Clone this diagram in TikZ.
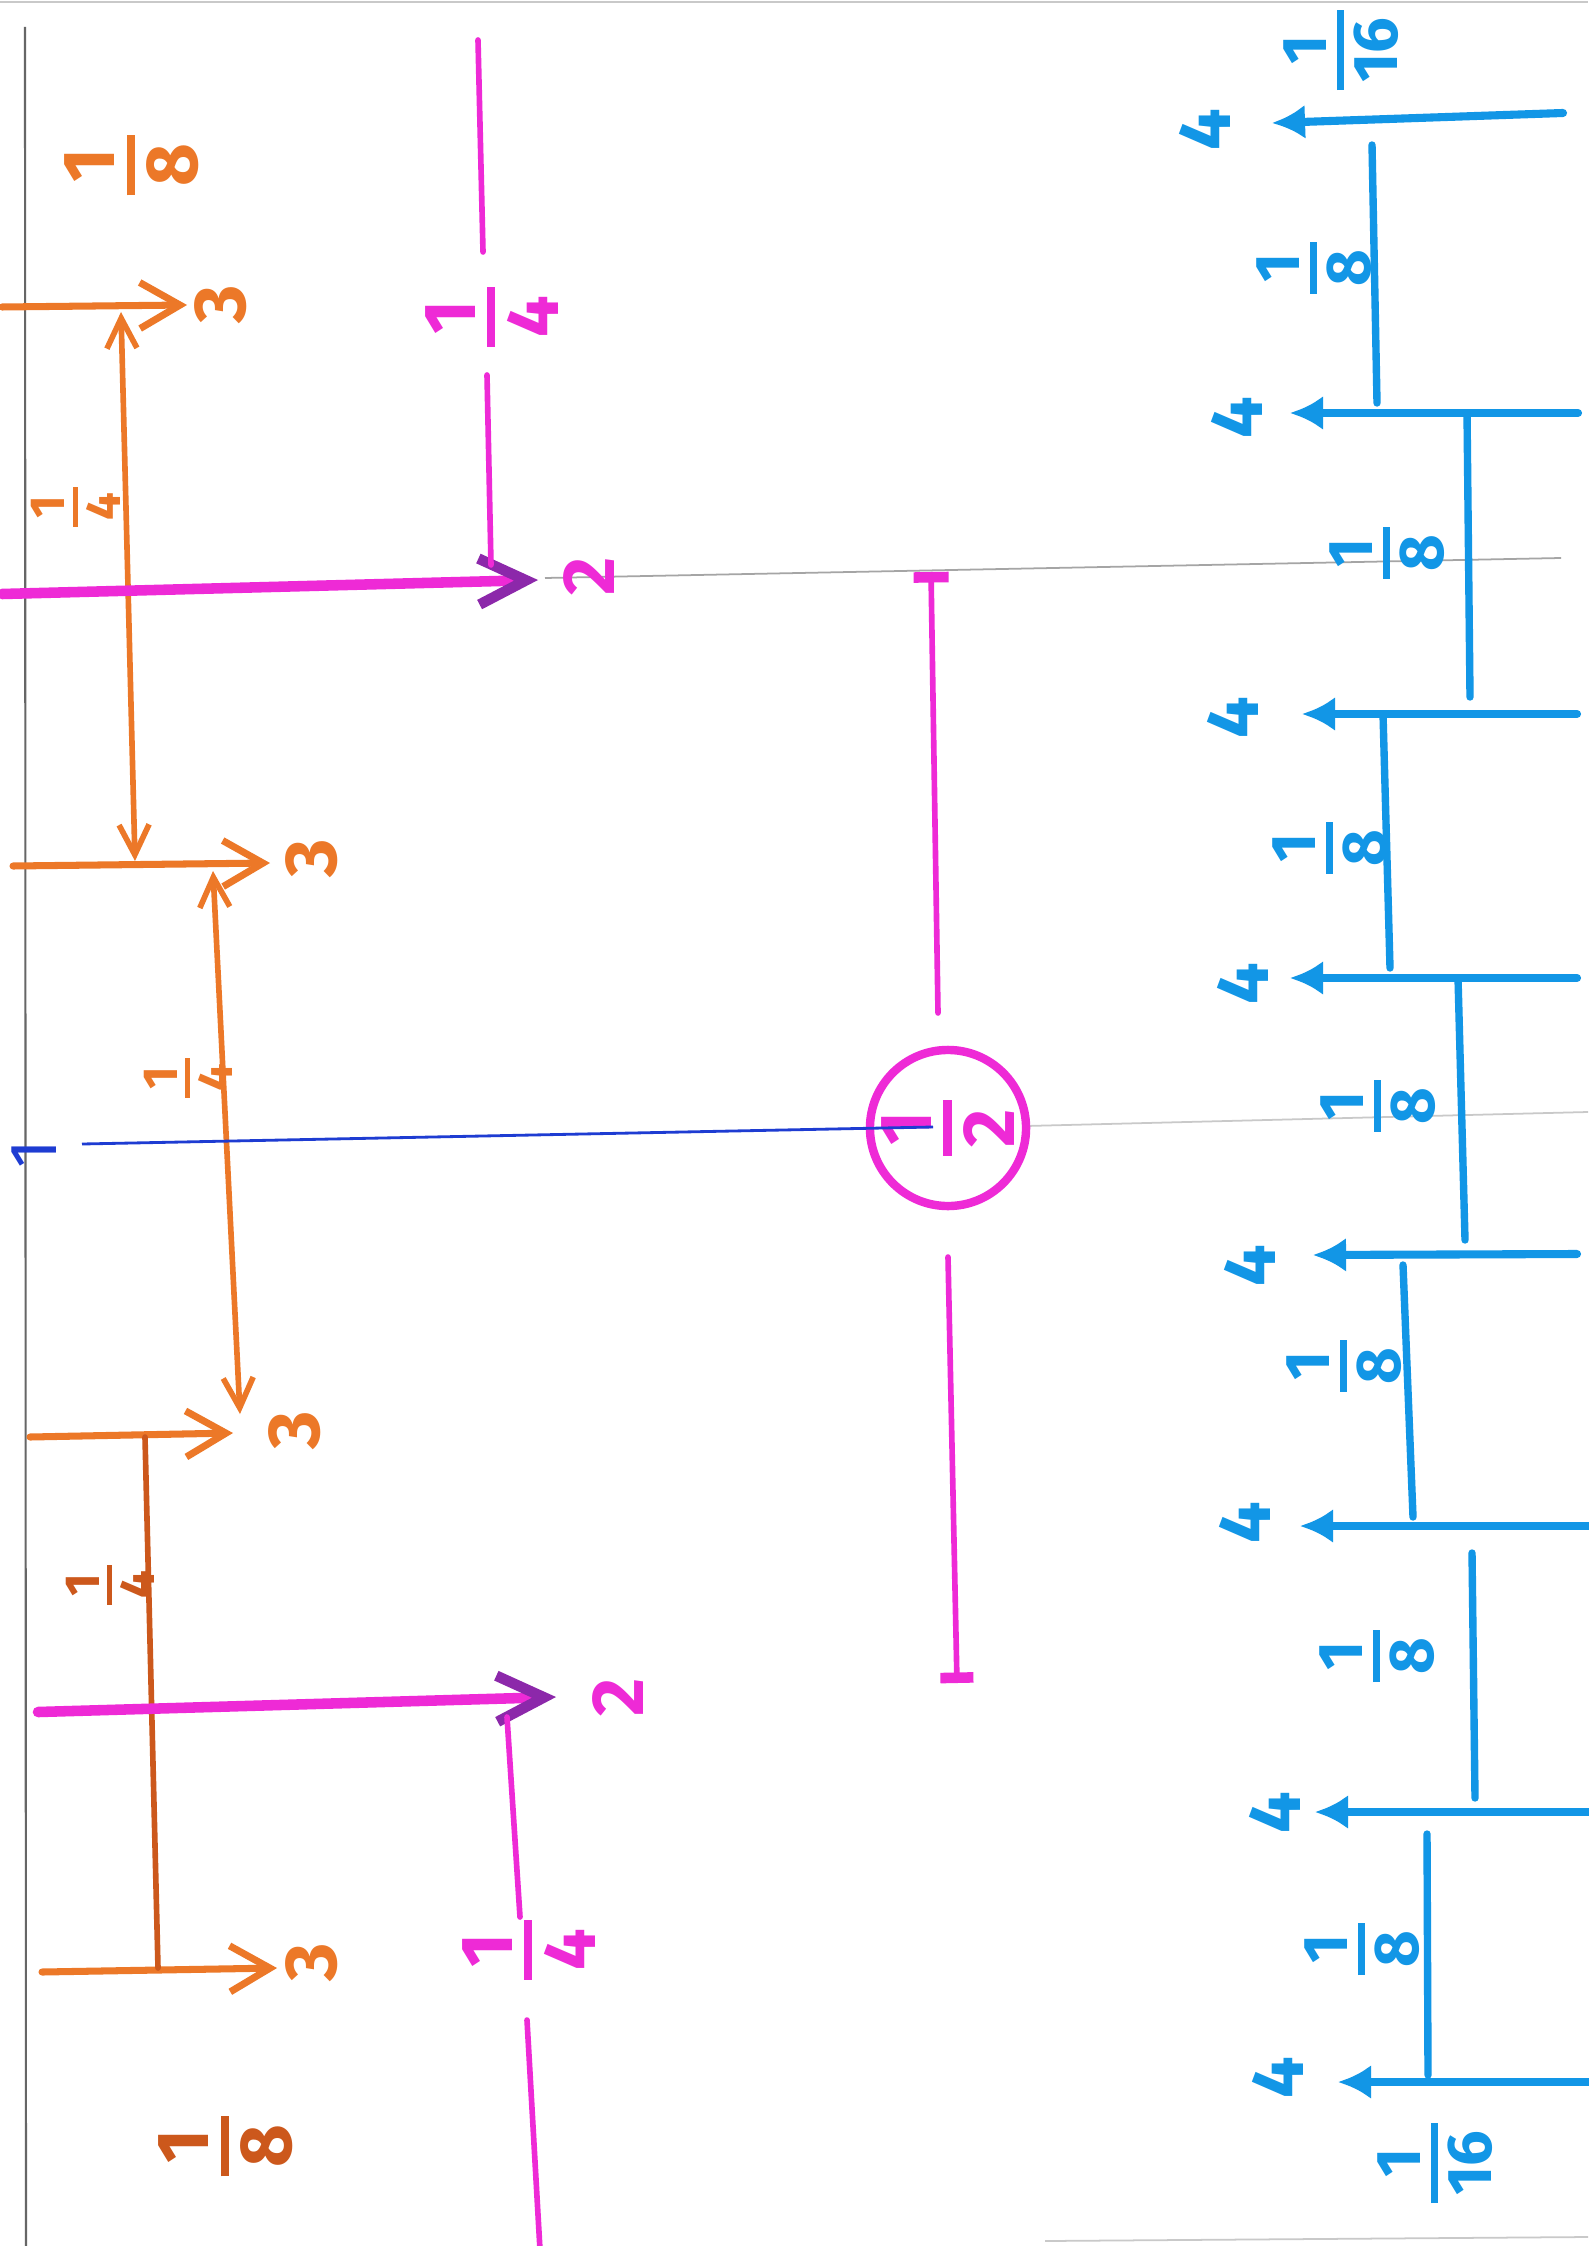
\documentclass[tikz,border=0pt]{standalone}
\usepackage{fontspec}
\setmainfont{Fira Sans}
\usetikzlibrary{arrows.meta}
\definecolor{orng}{RGB}{236,120,40}
\definecolor{orngdk}{RGB}{204,88,28}
\definecolor{mag}{RGB}{238,42,214}
\definecolor{magdk}{RGB}{140,40,170}
\definecolor{cyanb}{RGB}{18,150,230}
\definecolor{lineblue}{RGB}{30,60,210}
\definecolor{paperrule}{RGB}{165,165,165}
\newcommand{\fr}[2]{\vbox{\offinterlineskip\halign{\hfil\kern0.12em##\kern0.12em\hfil\cr #1\cr\noalign{\kern0.16em\hrule height 0.11em\kern0.16em}#2\cr}}}
\begin{document}
\begin{tikzpicture}[x=0.01cm,y=-0.01cm,
  lbl/.style={font=\bfseries\fontsize{21}{24}\selectfont, rotate=90, inner sep=1pt},
  fmid/.style={font=\bfseries\fontsize{18}{22}\selectfont},
  fsmall/.style={font=\bfseries\fontsize{14}{16}\selectfont},
  olbl/.style={lbl, text=orng},
  odlbl/.style={lbl, text=orngdk},
  mlbl/.style={lbl, text=mag},
  blbl/.style={lbl, text=cyanb},
  paperedge/.style={draw=gray!80!black, line width=0.6pt},
  faint/.style={draw=paperrule!60, line width=0.5pt},
  ruleline/.style={draw=paperrule, line width=0.5pt},
  oarrow/.style={draw=orng, line width=2pt, line cap=round, -{Straight Barb[length=4mm,width=4.6mm]}},
  odbl/.style={draw=orng, line width=1.6pt, line cap=round, {Straight Barb[length=3mm,width=3mm]}-{Straight Barb[length=3mm,width=3mm]}},
  oline/.style={draw=orngdk, line width=1.6pt, line cap=round},
  marrow/.style={draw=mag, line width=3pt, line cap=round, -{Straight Barb[length=4.7mm,width=4.6mm,color=magdk]}},
  mline/.style={draw=mag, line width=1.6pt, line cap=round},
  barrow/.style={draw=cyanb, line width=2.3pt, line cap=round, -{Latex[length=3.3mm,width=3.4mm]}},
  bline/.style={draw=cyanb, line width=2.1pt, line cap=round},
  thinblue/.style={draw=lineblue, line width=0.8pt}
]
\useasboundingbox (0,0) rectangle (1588,2246);
\fill[white] (0,0) rectangle (1588,2246);

% paper edges and rule lines
\coordinate (pl1) at (25,27); \coordinate (pl2) at (26,2246);
\draw[paperedge] (pl1) -- (pl2);
\coordinate (pt1) at (0,2); \coordinate (pt2) at (1588,2);
\draw[faint] (pt1) -- (pt2);
\coordinate (pb1) at (1045,2241); \coordinate (pb2) at (1588,2237);
\draw[faint] (pb1) -- (pb2);
\coordinate (g1a) at (545,578); \coordinate (g1b) at (1561,558);
\draw[ruleline] (g1a) -- (g1b);
\coordinate (g2a) at (1026,1126); \coordinate (g2b) at (1588,1112);
\draw[faint] (g2a) -- (g2b);

% ---------- orange ----------
\coordinate (oa1s) at (2,307); \coordinate (oa1e) at (187,305);
\node[olbl] (o3a) at (221,304) {3};
\draw[oarrow] (oa1s) -- (oa1e);
\coordinate (oa2s) at (13,866); \coordinate (oa2e) at (270,863);
\node[olbl] (o3b) at (312,858) {3};
\draw[oarrow] (oa2s) -- (oa2e);
\coordinate (oa3s) at (30,1437); \coordinate (oa3e) at (233,1433);
\node[olbl] (o3c) at (295,1430) {3};
\draw[oarrow] (oa3s) -- (oa3e);
\coordinate (oa4s) at (42,1972); \coordinate (oa4e) at (277,1968);
\node[olbl] (o3d) at (312,1962) {3};
\draw[oarrow] (oa4s) -- (oa4e);

\coordinate (ov1t) at (121,312); \coordinate (ov1b) at (135,861);
\draw[odbl] (ov1t) -- (ov1b);
\coordinate (ov2t) at (213,871); \coordinate (ov2b) at (240,1414);
\draw[odbl] (ov2t) -- (ov2b);
\coordinate (ov3t) at (145,1437); \coordinate (ov3b) at (158,1968);
\draw[oline] (ov3t) -- (ov3b);

\node[olbl] (of1) at (132,165) {\fr{1}{8}};
\node[olbl, fsmall] (of2) at (76,507) {\fr{1}{4}};
\node[olbl, fsmall] (of3) at (188,1078) {\fr{1}{4}};
\node[odlbl, fsmall] (of4) at (110,1585) {\fr{1}{4}};
\node[odlbl] (of5) at (226,2146) {\fr{1}{8}};

% ---------- magenta ----------
\coordinate (ma1s) at (2,594); \coordinate (ma1e) at (538,580);
\node[mlbl] (m2a) at (589,576) {2};
\draw[marrow] (ma1s) -- (ma1e);
\coordinate (ma2s) at (38,1712); \coordinate (ma2e) at (556,1697);
\node[mlbl] (m2b) at (618,1697) {2};
\draw[marrow] (ma2s) -- (ma2e);

\coordinate (mv1a) at (478,40); \coordinate (mv1b) at (483,252);
\coordinate (mv1c) at (487,375); \coordinate (mv1d) at (491,565);
\draw[mline] (mv1a) -- (mv1b);
\draw[mline] (mv1c) -- (mv1d);
\node[mlbl] (mf1) at (492,317) {\fr{1}{4}};
\coordinate (mv2a) at (507,1717); \coordinate (mv2b) at (520,1917);
\coordinate (mv2c) at (527,2020); \coordinate (mv2d) at (540,2250);
\draw[mline] (mv2a) -- (mv2b);
\draw[mline] (mv2c) -- (mv2d);
\node[mlbl] (mf2) at (529,1950) {\fr{1}{4}};

\coordinate (mi1) at (931,572); \coordinate (mi2) at (938,1013);
\coordinate (mi3) at (948,1257); \coordinate (mi4) at (957,1683);
\draw[mline, {Bar[width=3.5mm,line width=3pt]}-] (mi1) -- (mi2);
\draw[mline, -{Bar[width=3.3mm,line width=3pt]}] (mi3) -- (mi4);
\node[circle, draw=mag, line width=2.4pt, minimum size=1.56cm, inner sep=0pt,
      text=mag, font=\bfseries\fontsize{21}{24}\selectfont, rotate=90] (half) at (948,1128) {\fr{1}{2}};

% ---------- thin blue line ----------
\coordinate (bl1s) at (82,1144); \coordinate (bl1e) at (933,1127);
\draw[thinblue] (bl1s) -- (bl1e);
\node[lbl, font=\fontsize{19}{22}\selectfont, text=lineblue] (one) at (34,1154) {1};

% ---------- cyan ----------
\node[blbl, fmid] (bf0) at (1341,50) {\fr{1}{16}};
\coordinate (ba1s) at (1563,113); \coordinate (ba1e) at (1272,123);
\draw[barrow] (ba1s) -- (ba1e);
\node[blbl] (b4a) at (1205,130) {4};
\coordinate (bv1t) at (1372,145); \coordinate (bv1b) at (1377,403);
\draw[bline] (bv1t) -- (bv1b);
\node[blbl, fmid] (bf1) at (1314,268) {\fr{1}{8}};

\coordinate (ba2s) at (1578,413); \coordinate (ba2e) at (1290,413);
\draw[barrow] (ba2s) -- (ba2e);
\node[blbl] (b4b) at (1237,418) {4};
\coordinate (bv2t) at (1467,413); \coordinate (bv2b) at (1470,697);
\draw[bline] (bv2t) -- (bv2b);
\node[blbl, fmid] (bf2) at (1387,553) {\fr{1}{8}};

\coordinate (ba3s) at (1577,714); \coordinate (ba3e) at (1302,714);
\draw[barrow] (ba3s) -- (ba3e);
\node[blbl] (b4c) at (1233,718) {4};
\coordinate (bv3t) at (1383,714); \coordinate (bv3b) at (1390,968);
\draw[bline] (bv3t) -- (bv3b);
\node[blbl, fmid] (bf3) at (1330,848) {\fr{1}{8}};

\coordinate (ba4s) at (1577,978); \coordinate (ba4e) at (1290,978);
\draw[barrow] (ba4s) -- (ba4e);
\node[blbl] (b4d) at (1243,984) {4};
\coordinate (bv4t) at (1458,978); \coordinate (bv4b) at (1465,1240);
\draw[bline] (bv4t) -- (bv4b);
\node[blbl, fmid] (bf4) at (1378,1106) {\fr{1}{8}};

\coordinate (ba5s) at (1577,1254); \coordinate (ba5e) at (1313,1255);
\draw[barrow] (ba5s) -- (ba5e);
\node[blbl] (b4e) at (1250,1266) {4};
\coordinate (bv5t) at (1403,1265); \coordinate (bv5b) at (1413,1517);
\draw[bline] (bv5t) -- (bv5b);
\node[blbl, fmid] (bf5) at (1344,1366) {\fr{1}{8}};

\coordinate (ba6s) at (1590,1526); \coordinate (ba6e) at (1300,1526);
\draw[barrow] (ba6s) -- (ba6e);
\node[blbl] (b4f) at (1245,1523) {4};
\coordinate (bv6t) at (1472,1553); \coordinate (bv6b) at (1475,1798);
\draw[bline] (bv6t) -- (bv6b);
\node[blbl, fmid] (bf6) at (1377,1656) {\fr{1}{8}};

\coordinate (ba7s) at (1590,1812); \coordinate (ba7e) at (1315,1812);
\draw[barrow] (ba7s) -- (ba7e);
\node[blbl] (b4g) at (1275,1813) {4};
\coordinate (bv7t) at (1427,1834); \coordinate (bv7b) at (1428,2075);
\draw[bline] (bv7t) -- (bv7b);
\node[blbl, fmid] (bf7) at (1362,1949) {\fr{1}{8}};

\coordinate (ba8s) at (1590,2082); \coordinate (ba8e) at (1338,2082);
\draw[barrow] (ba8s) -- (ba8e);
\node[blbl] (b4h) at (1278,2078) {4};
\node[blbl, fmid] (bf8) at (1435,2163) {\fr{1}{16}};
\end{tikzpicture}
\end{document}
